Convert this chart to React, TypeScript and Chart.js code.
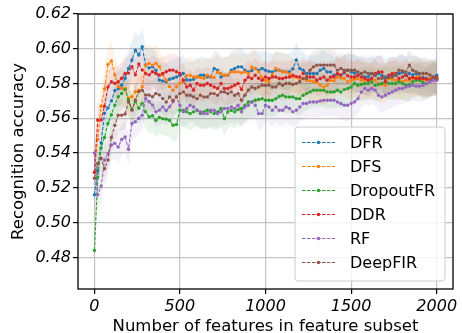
import { useEffect, useRef } from 'react';
import { Chart, registerables } from 'chart.js';
Chart.register(...registerables);

const X_FEATURES: number[] = Array.from({ length: 101 }, (_, i) => (i === 0 ? 1 : i * 20));

const DFR = [
  0.516, 0.530, 0.546, 0.563, 0.566, 0.570, 0.576, 0.577, 0.579, 0.583,
  0.5887, 0.5935, 0.5992, 0.5964, 0.6012, 0.5906, 0.589, 0.5897, 0.5877, 0.582,
  0.5815, 0.581, 0.5825, 0.583, 0.5838, 0.5848, 0.5858, 0.582, 0.582, 0.5825,
  0.5838, 0.5848, 0.5848, 0.5838, 0.5838, 0.5887, 0.5877, 0.5838, 0.5848, 0.5848,
  0.5877, 0.5887, 0.5896, 0.5896, 0.5877, 0.5867, 0.5875, 0.5887, 0.5877, 0.5887,
  0.5877, 0.587, 0.5867, 0.5877, 0.5877, 0.587, 0.5867, 0.5867, 0.5885, 0.5935,
  0.5887, 0.5877, 0.5858, 0.5858, 0.5858, 0.5858, 0.5877, 0.5887, 0.5867, 0.5867,
  0.5848, 0.5852, 0.5848, 0.586, 0.5877, 0.5867, 0.586, 0.5848, 0.5858, 0.5838,
  0.5838, 0.5858, 0.5848, 0.5858, 0.5845, 0.5838, 0.5845, 0.5848, 0.5848, 0.5858,
  0.5865, 0.5848, 0.5858, 0.585, 0.5858, 0.5838, 0.5835, 0.5829, 0.583, 0.5835,
  0.5848,
];

const DFS = [
  0.529, 0.548, 0.567, 0.577, 0.591, 0.593, 0.585, 0.5782, 0.5772, 0.5772,
  0.5715, 0.5724, 0.5753, 0.5762, 0.5782, 0.5906, 0.5916, 0.5906, 0.5916, 0.5897,
  0.5849, 0.582, 0.5782, 0.5762, 0.5782, 0.5801, 0.581, 0.5845, 0.5848, 0.5838,
  0.5838, 0.5835, 0.5829, 0.5848, 0.584, 0.5835, 0.5867, 0.5858, 0.5848, 0.585,
  0.5867, 0.5867, 0.5867, 0.5862, 0.5867, 0.5858, 0.5895, 0.5885, 0.5867, 0.5835,
  0.5819, 0.581, 0.585, 0.5887, 0.5877, 0.5867, 0.5867, 0.5855, 0.5838, 0.5838,
  0.5819, 0.5829, 0.5819, 0.5815, 0.581, 0.5805, 0.579, 0.578, 0.579, 0.5819,
  0.5815, 0.5838, 0.5832, 0.5829, 0.581, 0.5819, 0.5825, 0.5829, 0.5819, 0.5819,
  0.5819, 0.581, 0.5819, 0.58, 0.5795, 0.579, 0.5829, 0.5825, 0.5819, 0.5815,
  0.581, 0.5819, 0.5819, 0.5829, 0.5835, 0.5838, 0.5819, 0.5825, 0.5829, 0.5829,
  0.583,
];

const DROPOUT_FR = [
  0.484, 0.526, 0.543, 0.549, 0.557, 0.562, 0.5676, 0.5724, 0.5743, 0.5765,
  0.5705, 0.5654, 0.5696, 0.5658, 0.5686, 0.5637, 0.5608, 0.5615, 0.5588, 0.5605,
  0.5598, 0.5595, 0.5588, 0.556, 0.5565, 0.5646, 0.5646, 0.5637, 0.5627, 0.5637,
  0.5646, 0.5627, 0.5637, 0.5646, 0.5637, 0.5627, 0.5637, 0.5656, 0.5598, 0.5637,
  0.5646, 0.5637, 0.565, 0.5656, 0.5675, 0.5694, 0.5694, 0.5704, 0.5708, 0.5713,
  0.5704, 0.5704, 0.5704, 0.5713, 0.5725, 0.5733, 0.5723, 0.5723, 0.5723, 0.5713,
  0.5713, 0.5733, 0.5742, 0.5752, 0.5762, 0.5762, 0.5762, 0.5762, 0.5752, 0.5752,
  0.5752, 0.5762, 0.5752, 0.5765, 0.5771, 0.578, 0.58, 0.579, 0.5795, 0.58,
  0.58, 0.581, 0.579, 0.5795, 0.58, 0.581, 0.58, 0.58, 0.58, 0.581,
  0.58, 0.579, 0.5795, 0.581, 0.5819, 0.5819, 0.5805, 0.58, 0.5819, 0.5829,
  0.5825,
];

const DDR = [
  0.529, 0.559, 0.559, 0.567, 0.578, 0.581, 0.5801, 0.581, 0.583, 0.5858,
  0.586, 0.5897, 0.585, 0.5912, 0.5878, 0.5858, 0.585, 0.5868, 0.5858, 0.5849,
  0.5858, 0.5868, 0.5877, 0.5877, 0.5868, 0.5858, 0.5819, 0.578, 0.579, 0.5762,
  0.58, 0.579, 0.579, 0.58, 0.579, 0.578, 0.5771, 0.58, 0.5771, 0.5771,
  0.578, 0.579, 0.58, 0.5765, 0.5819, 0.5838, 0.5829, 0.5848, 0.583, 0.5819,
  0.5838, 0.5829, 0.5838, 0.5838, 0.5829, 0.5829, 0.5835, 0.5838, 0.5848, 0.584,
  0.5838, 0.5858, 0.5838, 0.5838, 0.5838, 0.5819, 0.5829, 0.5838, 0.5819, 0.5838,
  0.5838, 0.5858, 0.585, 0.5867, 0.5845, 0.5838, 0.5838, 0.5848, 0.5838, 0.583,
  0.5819, 0.5829, 0.5858, 0.5867, 0.5867, 0.581, 0.5848, 0.5858, 0.5858, 0.5829,
  0.5838, 0.5848, 0.5829, 0.5835, 0.5829, 0.5829, 0.5829, 0.5825, 0.5819, 0.5838,
  0.5835,
];

const RF = [
  0.540, 0.516, 0.521, 0.536, 0.5398, 0.5446, 0.5456, 0.5435, 0.5478, 0.5492,
  0.5422, 0.557, 0.558, 0.560, 0.5618, 0.5714, 0.5695, 0.5676, 0.5638, 0.5647,
  0.5666, 0.5645, 0.5666, 0.5695, 0.5724, 0.5676, 0.5638, 0.5656, 0.5675, 0.5665,
  0.5646, 0.5637, 0.5627, 0.5627, 0.5646, 0.5646, 0.5627, 0.5637, 0.5656, 0.5656,
  0.5665, 0.5656, 0.5675, 0.5637, 0.5665, 0.5675, 0.5694, 0.5675, 0.5627, 0.5627,
  0.5675, 0.5665, 0.5646, 0.5665, 0.5646, 0.5646, 0.5665, 0.5656, 0.5637, 0.5646,
  0.5665, 0.5685, 0.5685, 0.5694, 0.5694, 0.5694, 0.57, 0.5704, 0.5704, 0.5704,
  0.5704, 0.5694, 0.5685, 0.5675, 0.5675, 0.5685, 0.5694, 0.5713, 0.5752, 0.5771,
  0.5762, 0.5771, 0.5762, 0.5733, 0.5723, 0.5733, 0.5742, 0.5752, 0.5762, 0.5771,
  0.5771, 0.578, 0.5785, 0.579, 0.5785, 0.5785, 0.579, 0.58, 0.581, 0.5819,
  0.5819,
];

const DEEP_FIR = [
  0.5255, 0.534, 0.537, 0.531, 0.536, 0.549, 0.556, 0.5618, 0.5618, 0.5625,
  0.5695, 0.5647, 0.5705, 0.5753, 0.5762, 0.5734, 0.5734, 0.5724, 0.5743, 0.5735,
  0.5713, 0.5694, 0.5723, 0.5704, 0.5723, 0.5742, 0.5752, 0.5733, 0.5733, 0.5723,
  0.5713, 0.5733, 0.5723, 0.5723, 0.5742, 0.5742, 0.5733, 0.5752, 0.5752, 0.5742,
  0.5752, 0.5733, 0.5742, 0.5704, 0.5733, 0.5762, 0.578, 0.5771, 0.578, 0.579,
  0.579, 0.579, 0.578, 0.578, 0.58, 0.579, 0.58, 0.58, 0.5795, 0.58,
  0.581, 0.5829, 0.5829, 0.5877, 0.5896, 0.5906, 0.5906, 0.5906, 0.5906, 0.5906,
  0.5906, 0.5877, 0.5887, 0.5877, 0.5877, 0.5877, 0.5877, 0.5867, 0.5858, 0.5867,
  0.5858, 0.5858, 0.585, 0.5829, 0.5829, 0.5829, 0.5835, 0.5838, 0.5848, 0.5877,
  0.5872, 0.5867, 0.5906, 0.5877, 0.5867, 0.5858, 0.5858, 0.5858, 0.585, 0.5838,
  0.5829,
];

const SERIES_NAMES = ['DFR', 'DFS', 'DropoutFR', 'DDR', 'RF', 'DeepFIR'];
const SERIES_VALUES = [DFR, DFS, DROPOUT_FR, DDR, RF, DEEP_FIR];
const SERIES_STD = [0.0105, 0.0105, 0.0095, 0.0095, 0.009, 0.009];
const COLORS = ['#1f77b4', '#ff7f0e', '#2ca02c', '#d62728', '#9467bd', '#8c564b'];
const BAND_COLORS = [
  'rgba(31,119,180,0.10)', 'rgba(255,127,14,0.10)', 'rgba(44,160,44,0.10)',
  'rgba(214,39,40,0.10)', 'rgba(148,103,189,0.10)', 'rgba(140,86,75,0.10)',
];
const X_TICKS = [0, 500, 1000, 1500, 2000];
const Y_TICKS = [0.48, 0.5, 0.52, 0.54, 0.56, 0.58, 0.6, 0.62];

const FONT = "'DejaVu Sans', sans-serif";

const framePlugin = {
  id: 'frame',
  afterDraw(chart: any) {
    const { ctx, chartArea: a } = chart;
    ctx.save();
    ctx.strokeStyle = '#000';
    ctx.lineWidth = 1.3;
    ctx.strokeRect(a.left, a.top, a.right - a.left, a.bottom - a.top);
    ctx.restore();

    // legend box inside plot, lower right
    const w = 150, h = 154;
    const x0 = a.right - 158, y0 = a.bottom - 162;
    ctx.save();
    ctx.beginPath();
    const r = 3;
    ctx.moveTo(x0 + r, y0);
    ctx.lineTo(x0 + w - r, y0);
    ctx.quadraticCurveTo(x0 + w, y0, x0 + w, y0 + r);
    ctx.lineTo(x0 + w, y0 + h - r);
    ctx.quadraticCurveTo(x0 + w, y0 + h, x0 + w - r, y0 + h);
    ctx.lineTo(x0 + r, y0 + h);
    ctx.quadraticCurveTo(x0, y0 + h, x0, y0 + h - r);
    ctx.lineTo(x0, y0 + r);
    ctx.quadraticCurveTo(x0, y0, x0 + r, y0);
    ctx.closePath();
    ctx.fillStyle = 'rgba(255,255,255,0.8)';
    ctx.fill();
    ctx.strokeStyle = '#cccccc';
    ctx.lineWidth = 1;
    ctx.stroke();
    ctx.font = `16px ${FONT}`;
    ctx.textBaseline = 'middle';
    ctx.textAlign = 'left';
    SERIES_NAMES.forEach((name, k) => {
      const y = y0 + 15.5 + 24 * k;
      ctx.strokeStyle = COLORS[k];
      ctx.lineWidth = 1.1;
      ctx.setLineDash([3.5, 1.5]);
      ctx.beginPath();
      ctx.moveTo(x0 + 7, y);
      ctx.lineTo(x0 + 40, y);
      ctx.stroke();
      ctx.setLineDash([]);
      ctx.fillStyle = COLORS[k];
      ctx.beginPath();
      ctx.arc(x0 + 23.5, y, 1.8, 0, Math.PI * 2);
      ctx.fill();
      ctx.fillStyle = '#000';
      ctx.fillText(name, x0 + 55, y + 1);
    });
    ctx.restore();
  },
};

export default function App() {
  const ref = useRef<HTMLCanvasElement | null>(null);
  useEffect(() => {
    document.body.style.margin = '0';
    if (!ref.current) return;
    Chart.defaults.font.family = FONT;
    const datasets: any[] = [];
    SERIES_VALUES.forEach((vals, k) => {
      datasets.push({
        label: SERIES_NAMES[k] + ' low',
        data: X_FEATURES.map((x, i) => ({ x, y: vals[i] - SERIES_STD[k] })),
        borderWidth: 0,
        pointRadius: 0,
        fill: false,
        order: 100,
      });
      datasets.push({
        label: SERIES_NAMES[k] + ' high',
        data: X_FEATURES.map((x, i) => ({ x, y: vals[i] + SERIES_STD[k] })),
        borderWidth: 0,
        pointRadius: 0,
        fill: '-1',
        backgroundColor: BAND_COLORS[k],
        order: 100,
      });
    });
    SERIES_VALUES.forEach((vals, k) => {
      datasets.push({
        label: SERIES_NAMES[k],
        data: X_FEATURES.map((x, i) => ({ x, y: vals[i] })),
        borderColor: COLORS[k],
        backgroundColor: COLORS[k],
        borderWidth: 1.1,
        borderDash: [3.5, 1.5],
        pointRadius: 1.7,
        pointBorderWidth: 0,
        pointBackgroundColor: COLORS[k],
        pointHoverRadius: 0,
        fill: false,
        order: 6 - k,
      });
    });
    const chart = new Chart(ref.current, {
      type: 'line',
      data: { datasets },
      plugins: [framePlugin],
      options: {
        animation: false,
        responsive: false,
        devicePixelRatio: 1,
        layout: { padding: { top: 14, right: 9, left: 0, bottom: 0 } },
        plugins: { legend: { display: false }, tooltip: { enabled: false } },
        scales: {
          x: {
            type: 'linear',
            min: -95,
            max: 2095,
            afterBuildTicks: (s: any) => { s.ticks = X_TICKS.map((v) => ({ value: v })); },
            afterFit: (s: any) => { s.height = 44; },
            ticks: {
              font: { size: 16, style: 'italic', family: FONT },
              color: '#000',
              padding: 3,
              maxRotation: 0,
              autoSkip: false,
              callback: (v: any) => String(v),
            },
            grid: { color: '#c4c4c4', lineWidth: 1.2, tickLength: 5, tickColor: '#000', tickWidth: 1.2 },
            border: { display: false },
            title: {
              display: true,
              text: 'Number of features in feature subset',
              color: '#000',
              font: { size: 16.5, family: FONT, lineHeight: 1 },
              padding: { top: 0, bottom: -2 },
            },
          },
          y: {
            type: 'linear',
            min: 0.4618,
            max: 0.62,
            afterBuildTicks: (s: any) => { s.ticks = Y_TICKS.map((v) => ({ value: v })); },
            afterFit: (s: any) => { s.width = 78; },
            ticks: {
              font: { size: 16, style: 'italic', family: FONT },
              color: '#000',
              padding: 2,
              autoSkip: false,
              callback: (v: any) => Number(v).toFixed(2),
            },
            grid: { color: '#c4c4c4', lineWidth: 1.2, tickLength: 5, tickColor: '#000', tickWidth: 1.2 },
            border: { display: false },
            title: {
              display: true,
              text: 'Recognition accuracy',
              color: '#000',
              font: { size: 16.5, family: FONT, lineHeight: 1 },
              padding: { top: 10, bottom: 0 },
            },
          },
        },
      },
    });
    return () => chart.destroy();
  }, []);
  return <canvas ref={ref} width={462} height={333} style={{ display: 'block', width: 462, height: 333 }} />;
}
